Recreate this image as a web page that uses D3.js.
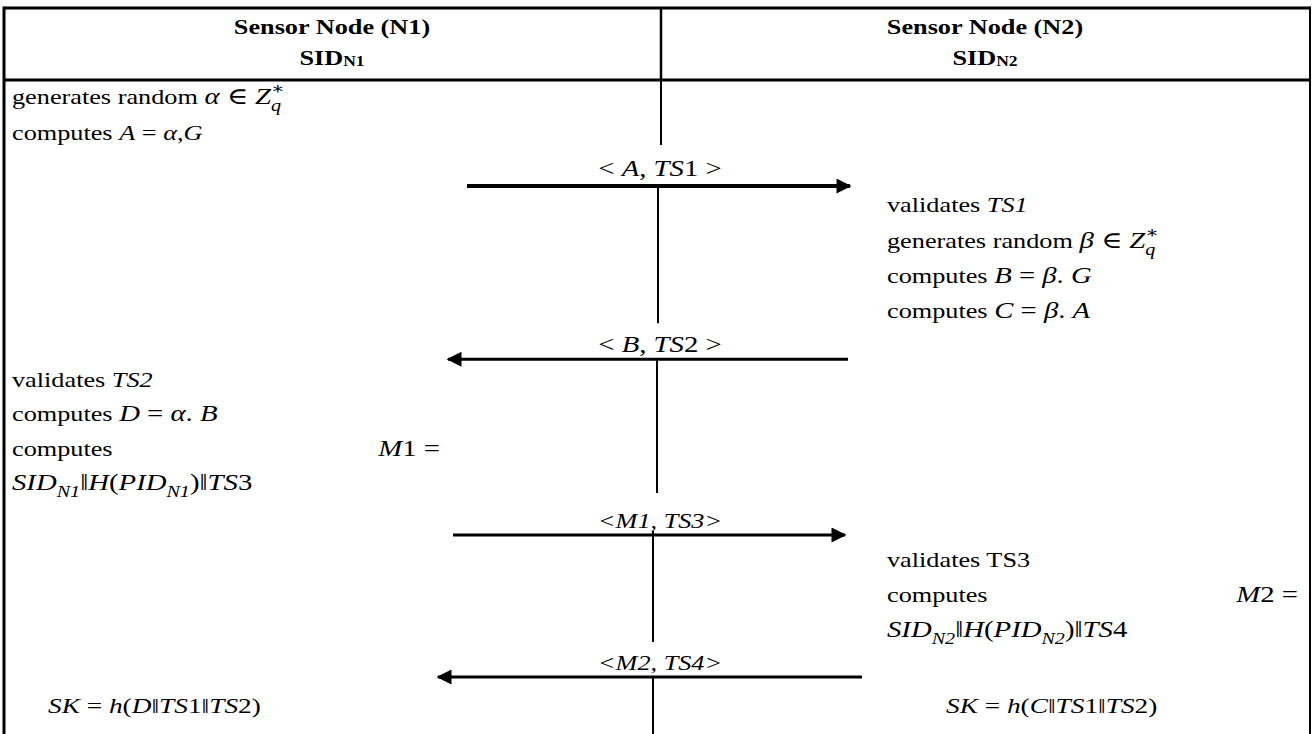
<!DOCTYPE html>
<html lang="en">
<head>
<meta charset="UTF-8">
<title>Key agreement between sensor nodes</title>
<script src="https://cdn.jsdelivr.net/npm/d3@7"></script>
<style>
  html, body { margin: 0; padding: 0; background: #fff; }
  svg { display: block; }
</style>
</head>
<body>
<svg id="chart" width="1314" height="734"></svg>
<script>
"use strict";

// header of the two columns
var nodeTitles = ["Sensor Node (N1)", "Sensor Node (N2)"];
var nodeIds = ["N1", "N2"];

// messages exchanged (label, step, direction: 1 = N1 -> N2, -1 = N2 -> N1)
var messageLabels = [
    [["< ", "u"], ["A", "m"], [", ", "u"], ["TS", "m"], ["1", "u"], [" >", "u"]],
    [["< ", "u"], ["B", "m"], [", ", "u"], ["TS", "m"], ["2", "u"], [" >", "u"]],
    [["<M1, TS3>", "i"]],
    [["<M2, TS4>", "i"]]
];
var messageSteps = [2, 7, 12, 16];
var messageDirs = [1, -1, 1, -1];

// text lines of node N1
var leftSteps = [0, 1, 8, 9, 10, 11];
var leftLines = [
    [["generates random ", "t"], ["α", "m"], [" ∈ ", "u"], ["Z", "m"], ["∗", "sup"], ["q", "sub"]],
    [["computes ", "t"], ["A", "i"], [" = ", "t"], ["α", "i"], [",", "t"], ["G", "i"]],
    [["validates ", "t"], ["TS2", "i"]],
    [["computes ", "t"], ["D", "m"], [" =  ", "u"], ["α", "m"], [". ", "u"], ["B", "m"]],
    [["computes", "t"]],
    [["SID", "m"], ["N1", "sub"], ["‖", "u"], ["H", "m"], ["(", "u"], ["PID", "m"], ["N1", "sub"], [")‖", "u"], ["TS", "m"], ["3", "u"]]
];

// text lines of node N2
var rightSteps = [3, 4, 5, 6, 13, 14, 15];
var rightLines = [
    [["validates ", "t"], ["TS1", "i"]],
    [["generates random ", "t"], ["β", "m"], [" ∈ ", "u"], ["Z", "m"], ["∗", "sup"], ["q", "sub"]],
    [["computes ", "t"], ["B", "m"], [" =  ", "u"], ["β", "m"], [". ", "u"], ["G", "m"]],
    [["computes ", "t"], ["C", "m"], [" =  ", "u"], ["β", "m"], [". ", "u"], ["A", "m"]],
    [["validates TS3", "t"]],
    [["computes", "t"]],
    [["SID", "m"], ["N2", "sub"], ["‖", "u"], ["H", "m"], ["(", "u"], ["PID", "m"], ["N2", "sub"], [")‖", "u"], ["TS", "m"], ["4", "u"]]
];

// right-justified tails of the "computes M =" lines
var tailSteps = [10, 14];
var tailSides = [0, 1];
var tailLines = [
    [["M", "m"], ["1 =", "u"]],
    [["M", "m"], ["2 =", "u"]]
];

// session keys
var keyStep = 17;
var keyLines = [
    [["SK", "m"], [" = ", "u"], ["h", "m"], ["(", "u"], ["D", "m"], ["‖", "u"], ["TS", "m"], ["1", "u"], ["‖", "u"], ["TS", "m"], ["2", "u"], [")", "u"]],
    [["SK", "m"], [" = ", "u"], ["h", "m"], ["(", "u"], ["C", "m"], ["‖", "u"], ["TS", "m"], ["1", "u"], ["‖", "u"], ["TS", "m"], ["2", "u"], [")", "u"]]
];

(function () {
var H = 734;
var svg = d3.select("#chart");

var serif = "'Liberation Serif', 'Times New Roman', serif";
var mathFont = "'Liberation Serif', 'DejaVu Serif', serif";
var fs = 21, mfs = 23;
var sx = 1.25;           // the original picture is stretched sideways

// step -> baseline
var y = d3.scaleLinear()
    .domain([0, 4, 8, 11, 12, 13, 15, 16, 17])
    .range([104, 248, 387, 490, 528, 567, 637, 670, 713]);

// columns
var x = d3.scalePoint().domain([0, 1]).range([332, 985]);
var bodyX = d3.scaleOrdinal().domain([0, 1]).range([12, 887]);
var keyX = d3.scaleOrdinal().domain([0, 1]).range([48, 946]);
var tailX = d3.scaleOrdinal().domain([0, 1]).range([440, 1298]);
var midX = 660;

var frameTop = 8, headBottom = 80, frameLeft = 4, frameRight = 1310;

function place(px, py) { return "translate(" + px + "," + py + ") scale(" + sx + ",1)"; }

// frame
var g = svg.append("g").attr("stroke", "#000").attr("fill", "none");
g.append("line").attr("x1", frameLeft).attr("x2", frameRight).attr("y1", frameTop).attr("y2", frameTop).attr("stroke-width", 3);
g.append("line").attr("x1", frameLeft).attr("x2", frameRight).attr("y1", headBottom).attr("y2", headBottom).attr("stroke-width", 3);
g.append("line").attr("x1", frameLeft).attr("x2", frameLeft).attr("y1", frameTop - 1.5).attr("y2", H + 5).attr("stroke-width", 3);
g.append("line").attr("x1", frameRight).attr("x2", frameRight).attr("y1", frameTop - 1.5).attr("y2", H + 5).attr("stroke-width", 2);
g.append("line").attr("x1", midX + 1).attr("x2", midX + 1).attr("y1", frameTop).attr("y2", headBottom).attr("stroke-width", 2.5);

// header
var head = svg.append("g").attr("font-family", serif).attr("font-weight", "bold")
    .attr("text-anchor", "middle").attr("fill", "#000");
head.selectAll("text.title").data(nodeTitles).join("text")
    .attr("class", "title")
    .attr("transform", function (d, i) { return place(x(i), 34); })
    .attr("font-size", fs)
    .text(function (d) { return d; });
head.selectAll("text.sid").data(nodeIds).join("text")
    .attr("class", "sid")
    .attr("transform", function (d, i) { return place(x(i), 65); })
    .attr("font-size", fs)
    .each(function (d) {
        var t = d3.select(this);
        t.append("tspan").text("SID");
        t.append("tspan").attr("font-size", 14).attr("dy", 1).text(d);
    });

// write a line made of parts; k scales the math size
function writeParts(textSel, parts, k) {
    var m = mfs * (k || 1);
    var off = 0, lastSup = null;
    parts.forEach(function (p) {
        var kind = p[1];
        var ts = textSel.append("tspan").text(p[0]);
        var target = 0;
        if (kind === "t") {
            ts.attr("font-family", serif).attr("font-size", fs);
        } else if (kind === "i") {
            ts.attr("font-family", serif).attr("font-style", "italic").attr("font-size", fs);
        } else if (kind === "m") {
            ts.attr("font-family", mathFont).attr("font-style", "italic").attr("font-size", m);
        } else if (kind === "u") {
            ts.attr("font-family", mathFont).attr("font-size", m);
        } else if (kind === "sup") {
            ts.attr("font-family", mathFont).attr("font-size", m * 0.7);
            target = -m * 0.42;
        } else if (kind === "sub") {
            ts.attr("font-family", mathFont).attr("font-style", "italic").attr("font-size", m * 0.7);
            target = m * 0.3;
        }
        if (target !== off) { ts.attr("dy", target - off); off = target; }
        if (kind === "sub" && lastSup) {
            ts.attr("dx", -lastSup.node().getComputedTextLength());
        }
        lastSup = kind === "sup" ? ts : null;
    });
}

var body = svg.append("g").attr("fill", "#000");

function drawLines(cls, steps, lines, xAt, anchor, k) {
    body.selectAll("text." + cls).data(lines).join("text")
        .attr("class", cls)
        .attr("transform", function (d, i) { return place(xAt(i), y(steps[i])); })
        .attr("text-anchor", anchor)
        .each(function (d) { writeParts(d3.select(this), d, k); });
}

drawLines("left", leftSteps, leftLines, function () { return bodyX(0); }, "start");
drawLines("right", rightSteps, rightLines, function () { return bodyX(1); }, "start");
drawLines("tail", tailSteps, tailLines, function (i) { return tailX(tailSides[i]); }, "end");
drawLines("key", keyLines.map(function () { return keyStep; }), keyLines, function (i) { return keyX(i); }, "start", 0.95);

// messages: arrows
var spanL = [467, 448, 453, 438];
var spanR = [850, 848, 845, 862];
var arrowY = function (d, i) { return y(messageSteps[i]) + (i === 0 ? 10 : 7); };

var defs = svg.append("defs");
defs.append("marker")
    .attr("id", "head")
    .attr("viewBox", "0 0 10 10")
    .attr("refX", 9).attr("refY", 5)
    .attr("markerUnits", "userSpaceOnUse")
    .attr("markerWidth", 19).attr("markerHeight", 15)
    .attr("orient", "auto")
    .append("path").attr("d", "M0,0 L10,5 L0,10 Z").attr("fill", "#000");

var msg = svg.append("g");
msg.selectAll("line.arrow").data(messageLabels).join("line")
    .attr("class", "arrow")
    .attr("x1", function (d, i) { return messageDirs[i] > 0 ? spanL[i] : spanR[i]; })
    .attr("x2", function (d, i) { return messageDirs[i] > 0 ? spanR[i] : spanL[i]; })
    .attr("y1", arrowY).attr("y2", arrowY)
    .attr("stroke", "#000")
    .attr("stroke-width", function (d, i) { return i === 0 ? 4 : 3; })
    .attr("marker-end", "url(#head)");

msg.selectAll("text.label").data(messageLabels).join("text")
    .attr("class", "label")
    .attr("transform", function (d, i) { return place(midX, y(messageSteps[i])); })
    .attr("text-anchor", "middle")
    .each(function (d) { writeParts(d3.select(this), d); });

// lifeline between the two nodes, broken by the message labels
var lifeSegs = [
    [headBottom, y(messageSteps[0]) - 31, midX + 1],
    [arrowY(null, 0), y(messageSteps[1]) - 29, midX - 2],
    [arrowY(null, 1), y(messageSteps[2]) - 35, midX - 3],
    [y(messageSteps[2]) + 3, y(messageSteps[3]) - 28, midX - 7],
    [arrowY(null, 3), H + 5, midX - 7]
];
svg.append("g").selectAll("line").data(lifeSegs).join("line")
    .attr("x1", function (d) { return d[2]; }).attr("x2", function (d) { return d[2]; })
    .attr("y1", function (d) { return d[0]; }).attr("y2", function (d) { return d[1]; })
    .attr("stroke", "#000").attr("stroke-width", 2);
})();
</script>
</body>
</html>
